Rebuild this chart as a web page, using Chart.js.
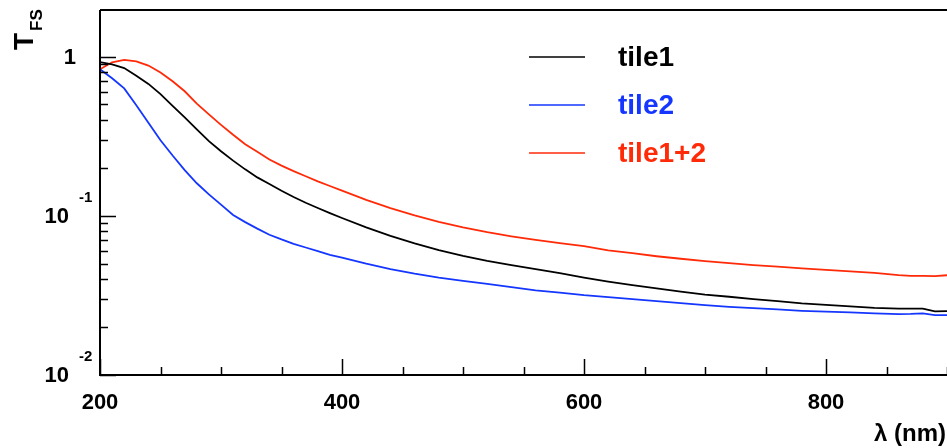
<!DOCTYPE html>
<html>
<head>
<meta charset="utf-8">
<script src="https://cdn.jsdelivr.net/npm/chart.js@4.4.1/dist/chart.umd.min.js"></script>
<style>
  html, body { margin: 0; padding: 0; background: #fff; }
  #wrap { width: 947px; height: 448px; }
</style>
</head>
<body>
<div id="wrap"><canvas id="chart" width="947" height="448"></canvas></div>
<script>
// ============================================
// Data
// ============================================
const wavelengths = [200, 210, 220, 230, 240, 250, 260, 270, 280, 290, 300, 310, 320, 330, 340, 350, 360, 370, 380, 390, 400,
  420, 440, 460, 480, 500, 520, 540, 560, 580, 600, 620, 640, 660, 680, 700, 720, 740, 760, 780, 800, 820, 840, 860,
  870, 880, 890, 900];

const tile1 = [0.922, 0.893, 0.846, 0.758, 0.673, 0.581, 0.490, 0.415, 0.349, 0.294, 0.254, 0.222, 0.1956, 0.1742, 0.1585, 0.1435, 0.1312, 0.1208, 0.1119, 0.1040, 0.0968,
  0.0845, 0.0748, 0.0671, 0.0608, 0.0560, 0.0520, 0.0490, 0.0463, 0.0436, 0.0409, 0.0386, 0.0367, 0.0350, 0.0334, 0.0320, 0.0310, 0.0300, 0.0291, 0.0282, 0.0276, 0.0270, 0.0264, 0.0261,
  0.0261, 0.0261, 0.0251, 0.0252];

const tile2 = [0.831, 0.730, 0.631, 0.495, 0.3836, 0.2983, 0.239, 0.1936, 0.160, 0.1362, 0.1174, 0.1012, 0.0912, 0.0830, 0.0760, 0.0710, 0.0667, 0.0632, 0.0600, 0.0569, 0.0545,
  0.0500, 0.0463, 0.0433, 0.0409, 0.0390, 0.0373, 0.0356, 0.0340, 0.0329, 0.0317, 0.0308, 0.0300, 0.0291, 0.0283, 0.0275, 0.0268, 0.0263, 0.0258, 0.0253, 0.0250, 0.0247, 0.0244, 0.0241,
  0.0242, 0.0244, 0.0238, 0.0238];

const tile12 = [0.833, 0.920, 0.953, 0.933, 0.878, 0.794, 0.699, 0.605, 0.506, 0.433, 0.3725, 0.3225, 0.281, 0.252, 0.2257, 0.2065, 0.1908, 0.1772, 0.1644, 0.1538, 0.1439,
  0.1259, 0.1117, 0.1005, 0.0916, 0.0845, 0.0789, 0.0743, 0.0705, 0.0673, 0.0644, 0.0607, 0.0582, 0.0557, 0.0537, 0.0519, 0.0504, 0.0490, 0.0479, 0.0468, 0.0457, 0.0447, 0.0438, 0.0424,
  0.0419, 0.0419, 0.0418, 0.0423];

const seriesLabels = ['tile1', 'tile2', 'tile1+2'];
const seriesColors = ['#000000', '#1436ff', '#ff2a08'];

// axis ticks
const xMajorTicks = [200, 400, 600, 800];
const xMinorTicks = [250, 300, 350, 450, 500, 550, 650, 700, 750, 850, 900];
const yDecades = [-2, -1, 0];     // 10^-2, 10^-1, 1
const yTickLabels = [{ base: '10', exp: '-2' }, { base: '10', exp: '-1' }, { base: '1', exp: '' }];

const FONT = '"Liberation Sans", Arial, Helvetica, sans-serif';

const toPoints = (ys) => wavelengths.map((x, i) => ({ x, y: ys[i] }));

// ============================================
// Frame, ticks, labels, legend (ROOT style)
// ============================================
const rootStyle = {
  id: 'rootStyle',
  afterDatasetsDraw(chart) {
    const { ctx, chartArea: a, scales } = chart;
    const xs = scales.x, ys = scales.y;
    ctx.save();
    ctx.strokeStyle = '#000';
    ctx.fillStyle = '#000';

    // frame
    ctx.lineWidth = 2;
    ctx.beginPath();
    ctx.moveTo(a.left, a.top);
    ctx.lineTo(a.right, a.top);
    ctx.moveTo(a.left, a.top);
    ctx.lineTo(a.left, a.bottom);
    ctx.lineTo(a.right, a.bottom);
    ctx.stroke();

    // x ticks (inward)
    ctx.lineWidth = 1.5;
    ctx.beginPath();
    xMajorTicks.forEach(v => {
      const px = Math.round(xs.getPixelForValue(v)) + 0.5;
      ctx.moveTo(px, a.bottom);
      ctx.lineTo(px, a.bottom - 16);
    });
    xMinorTicks.forEach(v => {
      const px = Math.round(xs.getPixelForValue(v)) + 0.5;
      ctx.moveTo(px, a.bottom);
      ctx.lineTo(px, a.bottom - 8);
    });
    // y ticks (inward)
    yDecades.forEach(d => {
      for (let m = 1; m <= 9; m++) {
        const v = m * Math.pow(10, d);
        if (v > ys.max) break;
        const py = Math.round(ys.getPixelForValue(v)) + 0.5;
        ctx.moveTo(a.left, py);
        ctx.lineTo(a.left + (m === 1 ? 16 : 8), py);
      }
    });
    ctx.stroke();

    // x labels
    ctx.font = 'bold 22px ' + FONT;
    ctx.textAlign = 'center';
    ctx.textBaseline = 'middle';
    xMajorTicks.forEach(v => {
      ctx.fillText(String(v), xs.getPixelForValue(v), a.bottom + 28);
    });
    ctx.textAlign = 'right';
    ctx.font = 'bold 24px ' + FONT;
    ctx.fillText('\u03bb (nm)', a.right - 1, a.bottom + 59);

    // y labels
    yDecades.forEach((d, i) => {
      const lab = yTickLabels[i];
      const py = ys.getPixelForValue(Math.pow(10, d));
      ctx.font = 'bold 22px ' + FONT;
      ctx.textAlign = 'right';
      ctx.textBaseline = 'middle';
      if (lab.exp) {
        ctx.fillText(lab.base, a.left - 31, py + 1);
        ctx.font = 'bold 15px ' + FONT;
        ctx.textAlign = 'left';
        ctx.fillText(lab.exp, a.left - 21, py - 18);
      } else {
        ctx.fillText(lab.base, a.left - 24, py + 1);
      }
    });

    // y title T_FS, rotated
    ctx.save();
    ctx.translate(33, 50);
    ctx.rotate(-Math.PI / 2);
    ctx.textAlign = 'left';
    ctx.textBaseline = 'alphabetic';
    ctx.font = 'bold 28px ' + FONT;
    ctx.fillText('T', 0, 0);
    ctx.font = 'bold 17px ' + FONT;
    ctx.fillText('FS', 19, 9);
    ctx.restore();

    // legend
    const legY = [57, 105, 153];
    chart.data.datasets.forEach((ds, i) => {
      ctx.strokeStyle = ds.borderColor;
      ctx.lineWidth = 1.6;
      ctx.beginPath();
      ctx.moveTo(529, legY[i]);
      ctx.lineTo(585, legY[i]);
      ctx.stroke();
      ctx.fillStyle = ds.borderColor;
      ctx.font = 'bold 28px ' + FONT;
      ctx.textAlign = 'left';
      ctx.textBaseline = 'middle';
      ctx.fillText(ds.label, 618, legY[i] + 1);
    });

    ctx.restore();
  }
};

// ============================================
// Chart
// ============================================
const ctx = document.getElementById('chart').getContext('2d');
new Chart(ctx, {
  type: 'line',
  data: {
    datasets: [tile1, tile2, tile12].map((ys, i) => ({
      label: seriesLabels[i],
      data: toPoints(ys),
      borderColor: seriesColors[i],
      backgroundColor: seriesColors[i],
      borderWidth: 1.8,
      pointRadius: 0,
      tension: 0,
      fill: false
    }))
  },
  options: {
    responsive: false,
    animation: false,
    devicePixelRatio: 1,
    layout: { padding: { left: 100, top: 10, right: 0, bottom: 73 } },
    plugins: {
      legend: { display: false },
      tooltip: { enabled: false }
    },
    scales: {
      x: { type: 'linear', min: 200, max: 900, display: false },
      y: { type: 'logarithmic', min: 0.01, max: 1.96, display: false }
    }
  },
  plugins: [rootStyle]
});
</script>
</body>
</html>
